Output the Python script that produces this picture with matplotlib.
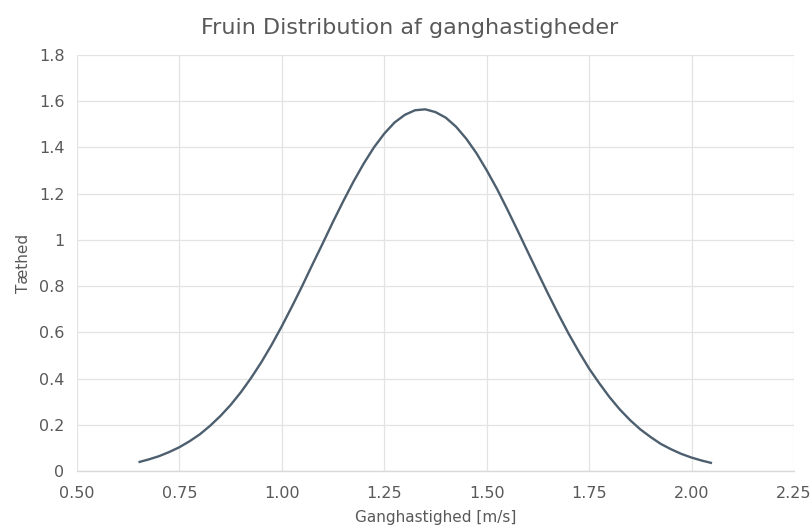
import numpy as np
import matplotlib.pyplot as plt

# ganghastighed [m/s] og tæthed aflæst fra kurven (hver 0.025 m/s)
hastighed = [0.650, 0.675, 0.700, 0.725, 0.750, 0.775, 0.800, 0.825, 0.850, 0.875,
             0.900, 0.925, 0.950, 0.975, 1.000, 1.025, 1.050, 1.075, 1.100, 1.125,
             1.150, 1.175, 1.200, 1.225, 1.250, 1.275, 1.300, 1.325, 1.350, 1.375,
             1.400, 1.425, 1.450, 1.475, 1.500, 1.525, 1.550, 1.575, 1.600, 1.625,
             1.650, 1.675, 1.700, 1.725, 1.750, 1.775, 1.800, 1.825, 1.850, 1.875,
             1.900, 1.925, 1.950, 1.975, 2.000, 2.025, 2.050]
taethed = [0.038, 0.050, 0.064, 0.082, 0.103, 0.129, 0.159, 0.196, 0.238, 0.286,
           0.341, 0.403, 0.471, 0.546, 0.627, 0.713, 0.802, 0.895, 0.986, 1.079,
           1.168, 1.253, 1.331, 1.401, 1.460, 1.508, 1.541, 1.561, 1.565, 1.553,
           1.529, 1.490, 1.438, 1.375, 1.301, 1.221, 1.133, 1.042, 0.949, 0.857,
           0.766, 0.678, 0.594, 0.516, 0.443, 0.379, 0.319, 0.266, 0.220, 0.180,
           0.147, 0.117, 0.094, 0.074, 0.058, 0.045, 0.034]

x_ticks = [0.50, 0.75, 1.00, 1.25, 1.50, 1.75, 2.00, 2.25]
y_ticks = [0, 0.2, 0.4, 0.6, 0.8, 1.0, 1.2, 1.4, 1.6, 1.8]
y_labels = ['0', '0.2', '0.4', '0.6', '0.8', '1', '1.2', '1.4', '1.6', '1.8']

tekst = '#595959'
gitter = '#e3e3e3'

fig = plt.figure(figsize=(8.11, 5.27), dpi=100)
ax = fig.add_axes([0.095, 0.1063, 0.884, 0.7893])

ax.plot(hastighed, taethed, color='#4d5f6e', linewidth=1.7,
        solid_joinstyle='round', solid_capstyle='butt')

ax.set_xlim(0.5, 2.25)
ax.set_ylim(0, 1.8)
ax.set_xticks(x_ticks)
ax.set_xticklabels([f'{v:.2f}' for v in x_ticks])
ax.set_yticks(y_ticks)
ax.set_yticklabels(y_labels)

ax.grid(True, color=gitter, linewidth=0.9)
ax.set_axisbelow(True)
for side in ['top', 'right', 'left']:
    ax.spines[side].set_visible(False)
ax.spines['bottom'].set_color('#d9d9d9')
ax.spines['bottom'].set_linewidth(1.0)
ax.tick_params(axis='x', length=0, labelsize=11.5, colors=tekst, pad=11)
ax.tick_params(axis='y', length=0, labelsize=11.5, colors=tekst, pad=9)

ax.set_xlabel('Ganghastighed [m/s]', fontsize=11, color=tekst, labelpad=6)
ax.set_ylabel('Tæthed', fontsize=11, color=tekst, labelpad=6)
# titlen er centreret på hele figuren
fig.suptitle('Fruin Distribution af ganghastigheder', fontsize=16, color=tekst,
             x=0.505, y=0.947, va='center')

fig.savefig('out.png', dpi=100)
plt.close(fig)
